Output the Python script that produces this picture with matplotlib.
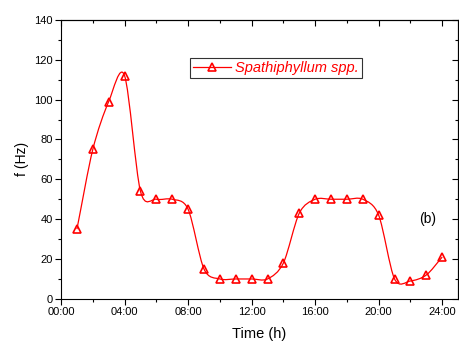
import numpy as np
import matplotlib.pyplot as plt
from matplotlib.path import Path
from matplotlib.patches import PathPatch
from matplotlib.ticker import MultipleLocator, FuncFormatter

plt.rcParams['font.family'] = ['Liberation Sans', 'DejaVu Sans']

# hourly readings
hours = [1, 2, 3, 4, 5, 6, 7, 8, 9, 10, 11, 12,
         13, 14, 15, 16, 17, 18, 19, 20, 21, 22, 23, 24]
freq = [35, 75, 99, 112, 54, 50, 50, 45, 15, 10, 10, 10,
        10, 18, 43, 50, 50, 50, 50, 42, 10, 9, 12, 21]
series_name = 'Spathiphyllum spp.'
panel_tag = '(b)'


def smooth_path(x, y, k=0.9):
    # cardinal spline through the points, drawn as cubic bezier segments
    x = np.asarray(x, float)
    y = np.asarray(y, float)
    n = len(x)
    dx = np.zeros(n)
    dy = np.zeros(n)
    dx[1:-1] = (x[2:] - x[:-2]) / 2
    dy[1:-1] = (y[2:] - y[:-2]) / 2
    dx[0], dy[0] = x[1] - x[0], y[1] - y[0]
    dx[-1], dy[-1] = x[-1] - x[-2], y[-1] - y[-2]
    dx *= k
    dy *= k
    verts = [(x[0], y[0])]
    codes = [Path.MOVETO]
    for i in range(n - 1):
        verts += [(x[i] + dx[i] / 3, y[i] + dy[i] / 3),
                  (x[i + 1] - dx[i + 1] / 3, y[i + 1] - dy[i + 1] / 3),
                  (x[i + 1], y[i + 1])]
        codes += [Path.CURVE4] * 3
    return Path(verts, codes)


fig = plt.figure(figsize=(4.59, 3.42), dpi=100)
ax = fig.add_axes([0.133, 0.126, 0.865, 0.816])

ax.add_patch(PathPatch(smooth_path(hours, freq), fill=False, edgecolor='red', lw=0.9))
ax.plot(hours, freq, linestyle='none', marker='^', ms=5.5, mfc='none',
        mec='red', mew=1.2)
# legend proxy: line with marker
ax.plot([], [], color='red', lw=0.9, marker='^', ms=5.5, mfc='none',
        mec='red', mew=1.2, label=series_name)

ax.set_xlim(0, 25)
ax.set_ylim(0, 140)
ax.xaxis.set_major_locator(MultipleLocator(4))
ax.xaxis.set_minor_locator(MultipleLocator(2))
ax.xaxis.set_major_formatter(FuncFormatter(lambda v, p: '%02d:00' % int(v) if v <= 24 else ''))
ax.yaxis.set_major_locator(MultipleLocator(20))
ax.yaxis.set_minor_locator(MultipleLocator(10))
ax.tick_params(which='major', direction='out', length=4, width=0.8, labelsize=8, pad=2)
ax.tick_params(which='minor', direction='out', length=2.5, width=0.8)

# mirrored ticks on top and right
top = ax.secondary_xaxis('top')
top.xaxis.set_major_locator(MultipleLocator(4))
top.xaxis.set_minor_locator(MultipleLocator(2))
top.tick_params(which='major', direction='in', length=4, width=0.8, labeltop=False)
top.tick_params(which='minor', direction='in', length=2.5, width=0.8)
right = ax.secondary_yaxis('right')
right.yaxis.set_major_locator(MultipleLocator(20))
right.yaxis.set_minor_locator(MultipleLocator(10))
right.tick_params(which='major', direction='in', length=4, width=0.8, labelright=False)
right.tick_params(which='minor', direction='in', length=2.5, width=0.8)

for s in ax.spines.values():
    s.set_linewidth(0.8)

ax.set_xlabel('Time (h)', fontsize=10.5, labelpad=7)
ax.set_ylabel('f (Hz)', fontsize=10, labelpad=4)

ax.text(22.55, 40, panel_tag, fontsize=10, va='center', ha='left')

leg = ax.legend(loc='upper left', bbox_to_anchor=(0.325, 0.862), borderaxespad=0,
                fontsize=10.5, frameon=True, fancybox=False, handlelength=2.6,
                handletextpad=0.3, borderpad=0.2)
leg.get_frame().set_edgecolor('black')
leg.get_frame().set_linewidth(0.8)
for t in leg.get_texts():
    t.set_color('red')
    t.set_style('italic')

fig.savefig('out.png', dpi=100)
